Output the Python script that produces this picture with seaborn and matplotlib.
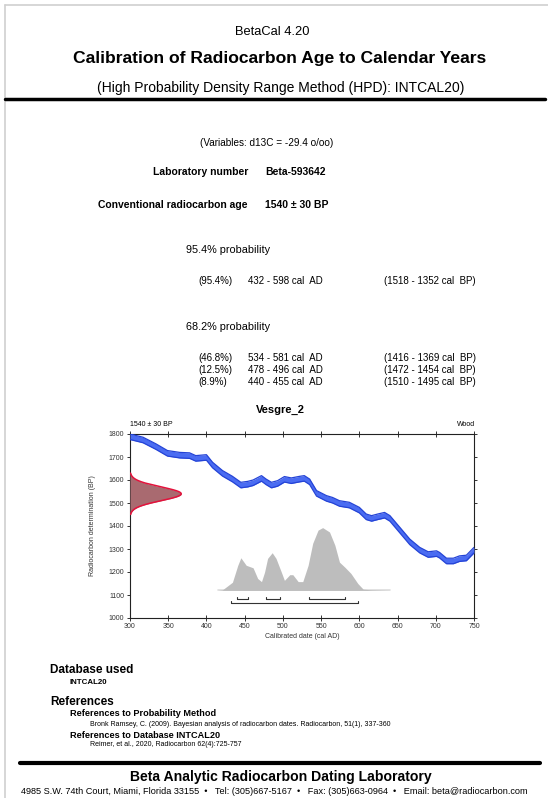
import numpy as np
import pandas as pd
import matplotlib
matplotlib.use("Agg")
import matplotlib.pyplot as plt
import seaborn as sns

# calibration curve (INTCAL20)
curve_year = [300, 317, 334, 349, 365, 378, 386, 400, 408, 421, 434, 445, 454, 461,
              472, 478, 485, 493, 502, 511, 522, 528, 535, 544, 557, 565, 574, 587,
              600, 609, 616, 624, 633, 640, 653, 666, 679, 690, 701, 705, 714, 723,
              731, 740, 750]
curve_bp = [1788, 1774, 1745, 1716, 1708, 1706, 1694, 1698, 1665, 1629, 1604, 1578,
            1582, 1588, 1607, 1592, 1578, 1585, 1603, 1597, 1604, 1607, 1592, 1542,
            1520, 1512, 1498, 1491, 1469, 1440, 1433, 1440, 1447, 1433, 1382, 1331,
            1295, 1276, 1280, 1273, 1248, 1248, 1258, 1261, 1295]
curve_sigma = 12

# measured age
c14_age = 1540
c14_err = 30

# calibrated probability (relative)
cal_year = [415, 421, 434, 441, 445, 452, 461, 467, 472, 476, 480, 486, 491, 498, 502,
            509, 513, 520, 526, 533, 539, 546, 552, 561, 568, 574, 581, 589, 598, 605,
            615, 640]
cal_prob = [0, .01, .13, .40, .52, .40, .36, .19, .14, .29, .51, .60, .51, .29, .16,
            .25, .25, .14, .14, .40, .75, .96, 1.0, .93, .72, .45, .37, .27, .11, .02,
            .01, 0]

# HPD ranges
range_954 = [(432, 598)]
range_682 = [(534, 581), (478, 496), (440, 455)]

W, H = 548, 798

sns.set_theme(style="ticks")
plt.rcParams['font.family'] = ['Liberation Sans', 'DejaVu Sans']

fig = plt.figure(figsize=(W / 100, H / 100), dpi=100)
fig.patch.set_facecolor("white")


def txt(x, y, s, size, bold=False, ha="left", color="black"):
    fig.text(x / W, 1 - y / H, s, fontsize=size, ha=ha, va="center",
             fontweight="bold" if bold else "normal", color=color)


def hline(x0, x1, y, lw, color="black"):
    fig.add_artist(plt.Line2D([x0 / W, x1 / W], [1 - y / H, 1 - y / H],
                              transform=fig.transFigure, lw=lw, color=color))


# page border
fig.add_artist(plt.Line2D([5 / W, 5 / W], [0, 1 - 5 / H], transform=fig.transFigure,
                          lw=1.2, color="#cfcfcf"))
hline(5, W, 5, 1.2, "#cfcfcf")

# header
txt(272, 32, "BetaCal 4.20", 9.3, ha="center")
txt(280, 59, "Calibration of Radiocarbon Age to Calendar Years", 12.6, True, ha="center")
txt(281, 88, "(High Probability Density Range Method (HPD): INTCAL20)", 10, ha="center")
hline(5, 545, 99, 2.5)

txt(267, 143, "(Variables: d13C = -29.4 o/oo)", 7.2, ha="center")
txt(248, 172, "Laboratory number", 7.5, True, ha="right")
txt(265, 172, "Beta-593642", 7.5, True)
txt(248, 205, "Conventional radiocarbon age", 7.5, True, ha="right")
txt(265, 205, "1540 ± 30 BP", 7.5, True)

txt(186, 250, "95.4% probability", 7.8)
txt(198, 281, "(95.4%)", 7)
txt(248, 281, "432 - 598 cal  AD", 7)
txt(384, 281, "(1518 - 1352 cal  BP)", 7)

txt(186, 327, "68.2% probability", 7.8)
rows = [("(46.8%)", "534 - 581 cal  AD", "(1416 - 1369 cal  BP)"),
        ("(12.5%)", "478 - 496 cal  AD", "(1472 - 1454 cal  BP)"),
        ("(8.9%)", "440 - 455 cal  AD", "(1510 - 1495 cal  BP)")]
for i, (a, b, c) in enumerate(rows):
    y = 358 + i * 12
    txt(198, y, a, 7)
    txt(248, y, b, 7)
    txt(384, y, c, 7)

# chart
ax = fig.add_axes([130 / W, 1 - 618 / H, 344 / W, 184 / H])
ax.set_facecolor("none")

cal = pd.DataFrame({"year": cal_year, "prob": cal_prob})
base = 1120
scale = 273
ax.plot([415, 640], [base, base], color="#dddddd", lw=1.2, zorder=1)
ax.fill_between(cal["year"], base, base + cal["prob"] * scale, color="#bdbdbd", lw=0, zorder=1)

cur = pd.DataFrame({"year": curve_year, "bp": curve_bp})
ax.fill_between(cur["year"], cur["bp"] - curve_sigma, cur["bp"] + curve_sigma,
                color="#4a6cf2", lw=0, zorder=3)
sns.lineplot(x=cur["year"], y=cur["bp"] + curve_sigma, ax=ax, color="#2443d6", lw=0.9, zorder=4)
sns.lineplot(x=cur["year"], y=cur["bp"] - curve_sigma, ax=ax, color="#2443d6", lw=0.9, zorder=4)

ages = np.linspace(c14_age - 3 * c14_err, c14_age + 3 * c14_err, 200)
dens = np.exp(-0.5 * ((ages - c14_age) / c14_err) ** 2)
gx = 300 + dens * 67
ax.fill_betweenx(ages, 300, gx, color="#a96a70", lw=0, zorder=5)
ax.plot(gx, ages, color="#e3123c", lw=1.1, zorder=6)

for lo, hi in range_954:
    ax.plot([lo, hi], [1065, 1065], color="#333333", lw=0.8)
    ax.plot([lo, lo], [1065, 1073], color="#333333", lw=0.8)
    ax.plot([hi, hi], [1065, 1073], color="#333333", lw=0.8)
for lo, hi in range_682:
    ax.plot([lo, hi], [1084, 1084], color="#333333", lw=0.8)
    ax.plot([lo, lo], [1084, 1092], color="#333333", lw=0.8)
    ax.plot([hi, hi], [1084, 1092], color="#333333", lw=0.8)

ax.set_xlim(300, 750)
ax.set_ylim(1000, 1800)
ax.set_xticks(range(300, 751, 50))
ax.set_yticks(range(1000, 1801, 100))
ax.tick_params(axis="both", labelsize=5, length=2.5, width=0.7, pad=1.5, colors="#333333")
ax.tick_params(axis="x", direction="inout", length=4, top=True)
ax.tick_params(axis="y", direction="out", right=True)
for s in ax.spines.values():
    s.set_linewidth(0.8)
    s.set_color("#222222")
ax.set_xlabel("Calibrated date (cal AD)", fontsize=5, color="#333333", labelpad=2)
ax.set_ylabel("Radiocarbon determination (BP)", fontsize=5, color="#333333", labelpad=9)

txt(280, 410, "Vesgre_2", 8, True, ha="center")
txt(130, 424, "1540 ± 30 BP", 5)
txt(475, 424, "Wood", 5, ha="right")

# footer
txt(50, 670, "Database used", 8.5, True)
txt(70, 683, "INTCAL20", 5.7, True)
txt(50, 702, "References", 8.5, True)
txt(70, 714, "References to Probability Method", 6.6, True)
txt(90, 725, "Bronk Ramsey, C. (2009). Bayesian analysis of radiocarbon dates. Radiocarbon, 51(1), 337-360", 5.0)
txt(70, 735, "References to Database INTCAL20", 6.6, True)
txt(90, 745, "Reimer, et al., 2020, Radiocarbon 62(4):725-757", 5.0)

hline(20, 540, 763, 3)
txt(281, 777, "Beta Analytic Radiocarbon Dating Laboratory", 10.1, True, ha="center")
txt(274, 791, "4985 S.W. 74th Court, Miami, Florida 33155  \u2022   Tel: (305)667-5167  \u2022   Fax: (305)663-0964  \u2022   Email: beta@radiocarbon.com", 6.6, ha="center")

fig.savefig("out.png", dpi=100, facecolor="white")
